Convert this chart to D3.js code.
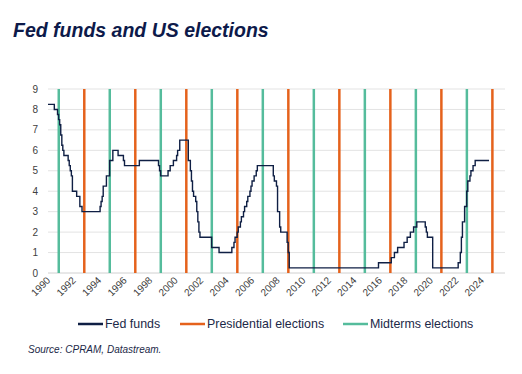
<!DOCTYPE html>
<html>
<head>
<meta charset="utf-8">
<script src="https://cdn.jsdelivr.net/npm/d3@7"></script>
<style>
  body { margin: 0; background: #fff; }
  svg { font-family: "Liberation Sans", Arial, sans-serif; }
</style>
</head>
<body>
<script>
// fed funds target rate, value from each change date onward
var fedDates = ["1990-01","1990-07","1990-10","1990-11","1990-12","1991-01","1991-02","1991-03","1991-04",
  "1991-08","1991-09","1991-10","1991-11","1991-12","1992-04","1992-07","1992-09","1994-02","1994-03",
  "1994-04","1994-05","1994-08","1994-11","1995-02","1995-07","1995-12","1996-01","1997-03","1998-09",
  "1998-10","1998-11","1999-06","1999-08","1999-11","2000-02","2000-03","2000-05","2001-01","2001-02",
  "2001-03","2001-04","2001-05","2001-06","2001-08","2001-09","2001-10","2001-11","2001-12","2002-11",
  "2003-06","2004-06","2004-08","2004-09","2004-11","2004-12","2005-02","2005-03","2005-05","2005-06",
  "2005-08","2005-09","2005-11","2005-12","2006-01","2006-03","2006-05","2006-06","2007-09","2007-10",
  "2007-12","2008-01","2008-02","2008-03","2008-04","2008-10","2008-11","2008-12","2015-12","2016-12",
  "2017-03","2017-06","2017-12","2018-03","2018-06","2018-09","2018-12","2019-08","2019-09","2019-10",
  "2020-03","2020-04","2022-03","2022-05","2022-06","2022-07","2022-09","2022-11","2022-12","2023-02",
  "2023-03","2023-05","2023-07","2024-08"];
var fedValues = [8.25,8.0,7.75,7.5,7.25,6.75,6.25,6.0,5.75,
  5.5,5.25,5.0,4.75,4.0,3.75,3.25,3.0,3.25,3.5,
  3.75,4.25,4.75,5.5,6.0,5.75,5.5,5.25,5.5,5.25,
  5.0,4.75,5.0,5.25,5.5,5.75,6.0,6.5,5.5,5.5,
  5.0,4.5,4.0,3.75,3.5,3.0,2.5,2.0,1.75,1.25,
  1.0,1.25,1.5,1.75,2.0,2.25,2.5,2.75,3.0,3.25,
  3.5,3.75,4.0,4.25,4.5,4.75,5.0,5.25,4.75,4.5,
  4.25,3.0,3.0,2.25,2.0,1.5,1.0,0.25,0.5,0.75,
  1.0,1.25,1.5,1.75,2.0,2.25,2.5,2.25,2.0,1.75,
  0.25,0.25,0.5,1.0,1.75,2.5,3.25,4.0,4.5,4.75,
  5.0,5.25,5.5,5.5];

var presidentialYears = [1992,1996,2000,2004,2008,2012,2016,2020,2024];
var midtermYears = [1990,1994,1998,2002,2006,2010,2014,2018,2022];
var xTickYears = d3.range(1990, 2025, 2);
var yTicks = d3.range(0, 10, 1);

var legendItems = [
  {label: "Fed funds", color: "#0f1f44"},
  {label: "Presidential elections", color: "#e5621c"},
  {label: "Midterms elections", color: "#55bc9c"}
];

var margin = {top: 89, left: 48},
    width = 457,
    height = 184;

var parseMonth = d3.timeParse("%Y-%m");
var data = fedDates.map(function(d, i) { return {date: parseMonth(d), value: fedValues[i]}; });

var x = d3.scaleTime()
    .domain([new Date(1990, 0, 1), new Date(2025, 10, 1)])
    .range([0, width]);
var y = d3.scaleLinear().domain([0, 9]).range([height, 0]);

var svg = d3.select("body").append("svg")
    .attr("width", 522)
    .attr("height", 374);

svg.append("text")
    .attr("x", 13)
    .attr("y", 37)
    .attr("font-size", 19.5)
    .attr("font-weight", "bold")
    .attr("font-style", "italic")
    .attr("fill", "#0d1a4a")
    .text("Fed funds and US elections");

var g = svg.append("g")
    .attr("transform", "translate(" + margin.left + "," + margin.top + ")");

// horizontal gridlines
g.selectAll(".grid")
    .data(yTicks)
  .enter().append("line")
    .attr("x1", 0)
    .attr("x2", width)
    .attr("y1", function(d) { return y(d); })
    .attr("y2", function(d) { return y(d); })
    .attr("stroke", function(d) { return d === 0 ? "#d0d0d0" : "#e3e3e3"; })
    .attr("stroke-width", 1);

// y labels
g.selectAll(".ylab")
    .data(yTicks)
  .enter().append("text")
    .attr("x", -10)
    .attr("y", function(d) { return y(d); })
    .attr("dy", "0.35em")
    .attr("text-anchor", "end")
    .attr("font-size", 10)
    .attr("fill", "#404040")
    .text(function(d) { return d; });

// x labels
g.selectAll(".xlab")
    .data(xTickYears)
  .enter().append("text")
    .attr("transform", function(d) {
      return "translate(" + (x(new Date(d, 0, 1)) + 3) + "," + (height + 8) + ") rotate(-45)";
    })
    .attr("text-anchor", "end")
    .attr("font-size", 10)
    .attr("fill", "#404040")
    .text(function(d) { return d; });

// election lines (November)
function electionLines(years, color) {
  g.selectAll(null)
      .data(years)
    .enter().append("line")
      .attr("x1", function(d) { return x(new Date(d, 10, 5)); })
      .attr("x2", function(d) { return x(new Date(d, 10, 5)); })
      .attr("y1", y(9))
      .attr("y2", y(0))
      .attr("stroke", color)
      .attr("stroke-width", 2.5);
}
electionLines(midtermYears, legendItems[2].color);
electionLines(presidentialYears, legendItems[1].color);

var line = d3.line()
    .curve(d3.curveStepAfter)
    .x(function(d) { return x(d.date); })
    .y(function(d) { return y(d.value); });

g.append("path")
    .datum(data)
    .attr("fill", "none")
    .attr("stroke", legendItems[0].color)
    .attr("stroke-width", 1.4)
    .attr("d", line);

// legend
var legendX = [78, 180, 343];
var legend = svg.selectAll(".legend")
    .data(legendItems)
  .enter().append("g")
    .attr("transform", function(d, i) { return "translate(" + legendX[i] + ",324)"; });
legend.append("line")
    .attr("x1", 0).attr("x2", 25)
    .attr("stroke", function(d) { return d.color; })
    .attr("stroke-width", 2.5);
legend.append("text")
    .attr("x", 27)
    .attr("dy", "0.35em")
    .attr("font-size", 12.4)
    .attr("fill", "#1c2948")
    .text(function(d) { return d.label; });

svg.append("text")
    .attr("x", 28)
    .attr("y", 353)
    .attr("font-size", 10)
    .attr("font-style", "italic")
    .attr("fill", "#1c2948")
    .text("Source: CPRAM, Datastream.");
</script>
</body>
</html>
